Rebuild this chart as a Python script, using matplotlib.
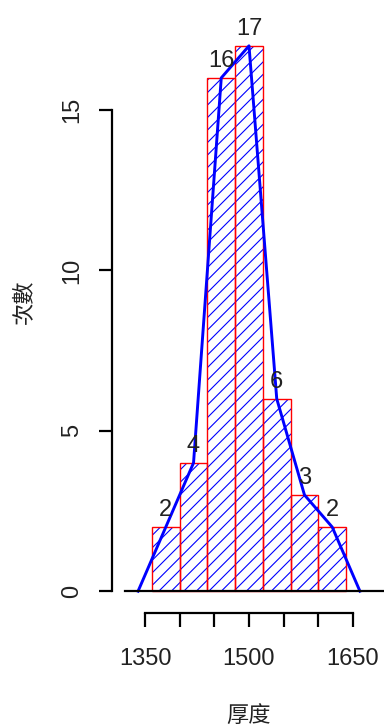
import numpy as np
import matplotlib
matplotlib.use("Agg")
import matplotlib.pyplot as plt

# thickness histogram (breaks every 40, counts per class)
breaks = [1360, 1400, 1440, 1480, 1520, 1560, 1600, 1640]
counts = [2, 4, 16, 17, 6, 3, 2]
xticks = [1350, 1400, 1450, 1500, 1550, 1600, 1650]
xticklabels = ["1350", "", "", "1500", "", "", "1650"]
yticks = [0, 5, 10, 15]
xlab = "厚度"
ylab = "次數"

DPI = 75
S = 100 / DPI  # sizes below are tuned for 100 dpi

plt.rcParams['font.family'] = ['Liberation Sans', 'Noto Sans CJK TC', 'DejaVu Sans']
plt.rcParams['hatch.linewidth'] = 0.8 * S

W, H = 384, 728
fig = plt.figure(figsize=(W / DPI, H / DPI), dpi=DPI)
# plot region in pixels: left 112, right 386, top 24, bottom 613
ax = fig.add_axes([112 / W, (H - 613) / H, 274 / W, 589 / H])
ax.set_xlim(1302.4, 1697.6)
ax.set_ylim(-0.68, 17.68)

b = np.array(breaks)
lefts = b[:-1]
widths = np.diff(b)
mids = lefts + widths / 2

# hatched fill, then red borders on top
ax.bar(lefts, counts, width=widths, align='edge', color='white',
       edgecolor='blue', hatch='//', linewidth=0, zorder=2)
ax.bar(lefts, counts, width=widths, align='edge', fill=False,
       edgecolor='red', linewidth=1.0 * S, zorder=3)

# frequency polygon closed to zero at both ends
step = widths[0]
px = np.concatenate([[mids[0] - step], mids, [mids[-1] + step]])
py = np.concatenate([[0], counts, [0]])
ax.plot(px, py, color='blue', lw=2.1 * S, zorder=4, solid_joinstyle='round')

for m, c in zip(mids, counts):
    ax.annotate(str(c), (m, c), xytext=(0, 12 * S), textcoords='offset points',
                ha='center', va='center', fontsize=17 * S, color='#222222',
                zorder=5)

# zero line
ax.plot([1321, 1720], [0, 0], color='black', lw=1.6 * S, clip_on=False, zorder=4)

for s in ['top', 'right']:
    ax.spines[s].set_visible(False)
ax.spines['left'].set_bounds(0, 15)
ax.spines['bottom'].set_bounds(1350, 1650)
ax.spines['left'].set_linewidth(1.6 * S)
ax.spines['bottom'].set_linewidth(1.6 * S)

ax.set_xticks(xticks)
ax.set_xticklabels(xticklabels)
ax.set_yticks(yticks)
ax.set_yticklabels([str(v) for v in yticks], rotation=90, va='center')
ax.tick_params(axis='both', direction='out', width=1.6 * S, labelsize=17 * S,
               labelcolor='#222222')
ax.tick_params(axis='x', length=10 * S, pad=15 * S)
ax.tick_params(axis='y', length=9.5 * S, pad=11 * S)

fig.text(249 / W, 1 - 716 / H, xlab, ha='center', va='center', fontsize=16 * S,
         color='#222222')
fig.text(25 / W, 1 - 302 / H, ylab, ha='center', va='center', fontsize=16 * S,
         rotation=90, color='#222222')

fig.savefig('out.png', dpi=DPI)
